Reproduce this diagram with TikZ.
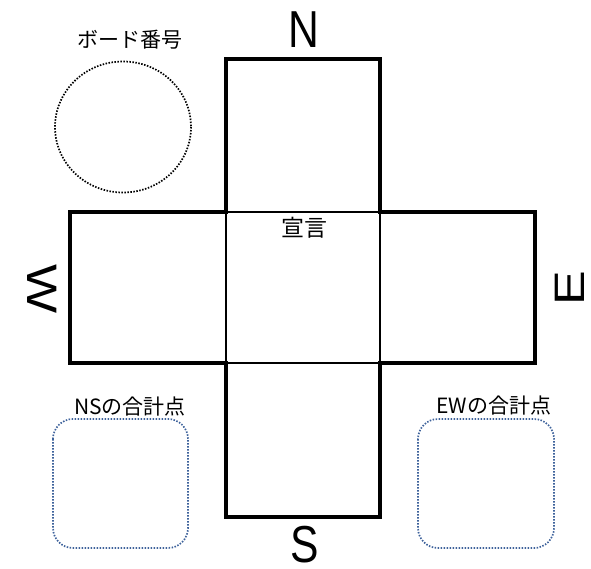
\documentclass[tikz,border=0pt]{standalone}
\usepackage{fontspec}
\setmainfont{Liberation Sans}
\newfontfamily\jpfont{Noto Sans CJK JP}
\definecolor{dotblue}{RGB}{62,98,155}
\begin{document}
\begin{tikzpicture}[x=1pt,y=-1pt,
  thickline/.style={line width=3.2pt,line join=miter},
  thinline/.style={line width=1.1pt},
  dir/.style={inner sep=0pt,font=\fontsize{52}{52}\selectfont,xscale=0.82},
  jplabel/.style={inner sep=0pt,font=\jpfont\fontsize{21}{21}\selectfont},
  dotcircle/.style={draw=black,line width=1.7pt,dash pattern=on 1.5pt off 1.5pt},
  dotbox/.style={draw=dotblue,line width=1.7pt,dash pattern=on 1.5pt off 1.5pt,rounded corners=20pt}
]
\useasboundingbox (0,0) rectangle (591,569);
% cross squares
\coordinate (nw) at (226,59);
\coordinate (ne) at (380,59);
\coordinate (cne) at (380,212);
\coordinate (ene) at (535,212);
\coordinate (ese) at (535,363);
\coordinate (cse) at (380,363);
\coordinate (se) at (380,517);
\coordinate (sw) at (226,517);
\coordinate (csw) at (226,363);
\coordinate (wsw) at (70,363);
\coordinate (wnw) at (70,212);
\coordinate (cnw) at (226,212);
\draw[thinline] (cnw) rectangle (cse);
\draw[thickline] (nw) -- (ne) -- (cne) -- (ene) -- (ese) -- (cse) -- (se) -- (sw) -- (csw) -- (wsw) -- (wnw) -- (cnw) -- cycle;
% direction letters
\node[dir] (N) at (304,30) {N};
\node[dir] (S) at (305,545) {S};
\node[dir,rotate=-90] (W) at (42,289) {W};
\node[dir,rotate=90] (E) at (569.5,288.5) {E};
% centre label
\node[jplabel,font=\jpfont\fontsize{23}{23}\selectfont] (decl) at (304,228) {宣言};
% board number
\node[jplabel] (boardlbl) at (130,40) {ボード番号};
\draw[dotcircle] (123,127) ellipse [x radius=68,y radius=65.5];
% totals
\node[jplabel] (nslbl) at (130,407) {NSの合計点};
\node[jplabel] (ewlbl) at (494,406) {EWの合計点};
\draw[dotbox] (53,419) rectangle (188,548);
\draw[dotbox] (418,419) rectangle (554,548);
\end{tikzpicture}
\end{document}
